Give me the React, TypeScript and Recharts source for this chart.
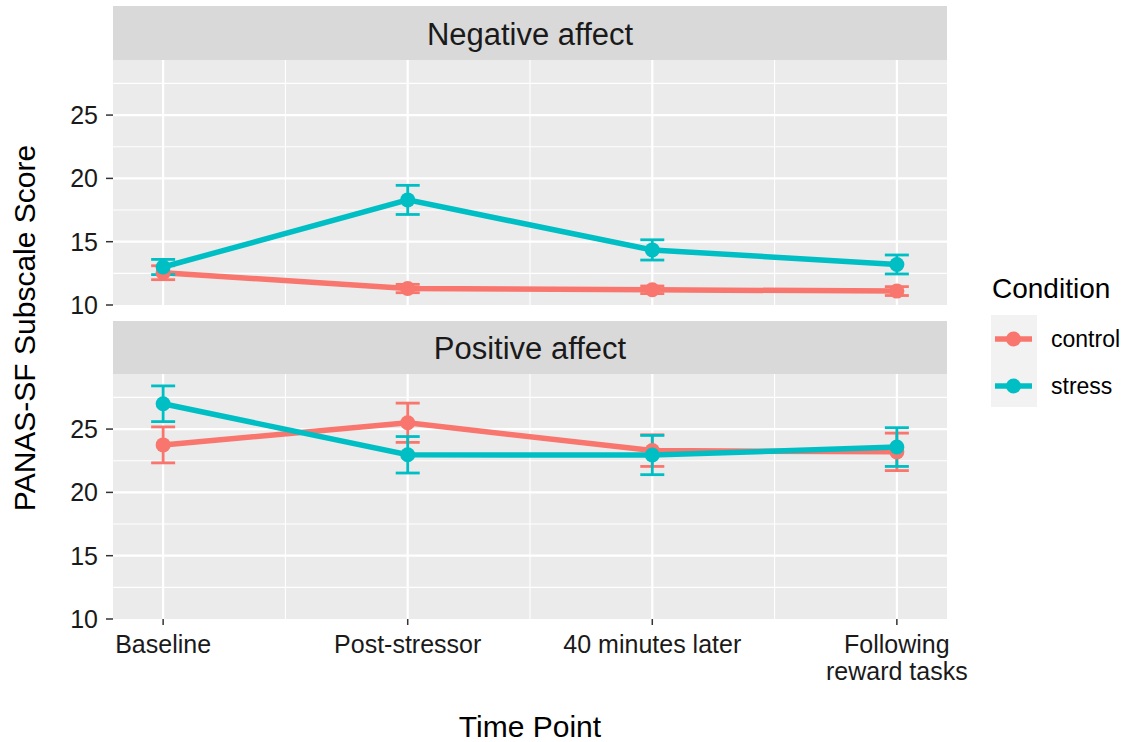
import React from 'react';
import { LineChart, Line, XAxis, YAxis, CartesianGrid, ReferenceLine, ErrorBar } from 'recharts';

// ---- data ----
const categories = ['Baseline', 'Post-stressor', '40 minutes later', 'Following\nreward tasks'];
const xPositions = [1, 2, 3, 4];
const conditions = ['control', 'stress'];
const conditionColors = ['#F8766D', '#00BFC4'];
const facets = ['Negative affect', 'Positive affect'];

const negControl = [12.55, 11.3, 11.2, 11.1];
const negControlErr = [0.55, 0.33, 0.3, 0.35];
const negStress = [13.0, 18.3, 14.35, 13.2];
const negStressErr = [0.6, 1.15, 0.8, 0.75];

const posControl = [23.75, 25.5, 23.3, 23.2];
const posControlErr = [1.42, 1.55, 1.25, 1.48];
const posStress = [27.0, 22.97, 22.95, 23.58];
const posStressErr = [1.41, 1.44, 1.55, 1.53];

const yTicks = [10, 15, 20, 25];
const yMajorGrid = [15, 20, 25];
const yMinorGrid = [12.5, 17.5, 22.5, 27.5];
const xMinorGrid = [1.5, 2.5, 3.5];
const yDomain = [10, 29.35];
const xDomain = [0.795, 4.205];

const yTitle = 'PANAS-SF Subscale Score';
const xTitle = 'Time Point';
const legendTitle = 'Condition';

const buildRows = (c: number[], ce: number[], s: number[], se: number[]) =>
  xPositions.map((x, i) => ({ x, control: c[i], controlErr: ce[i], stress: s[i], stressErr: se[i] }));

const negRows = buildRows(negControl, negControlErr, negStress, negStressErr);
const posRows = buildRows(posControl, posControlErr, posStress, posStressErr);

const FONT = '"Liberation Sans", Arial, Helvetica, sans-serif';
const TEXT = '#1a1a1a';

const XTick = (props: any) => {
  const { x, y, payload } = props;
  const idx = xPositions.indexOf(payload.value);
  const lines = (categories[idx] || '').split('\n');
  return (
    <text x={x} y={y} textAnchor="middle" fill={TEXT} fontSize={25} fontFamily={FONT}>
      {lines.map((l, i) => (
        <tspan key={i} x={x} dy={i === 0 ? 26 : 27}>
          {l}
        </tspan>
      ))}
    </text>
  );
};

function Panel({ rows, showX, top, height, marginTop, marginBottom }: any) {
  return (
    <div style={{ position: 'absolute', left: 0, top, width: 1010, height }}>
      <LineChart
        width={1010}
        height={height}
        data={rows}
        margin={{ top: marginTop, right: 63, bottom: marginBottom, left: 0 }}
      >
        <CartesianGrid fill="#EBEBEB" stroke="none" horizontal={false} vertical={false} />
        <XAxis
          type="number"
          dataKey="x"
          domain={xDomain}
          ticks={xPositions}
          hide={!showX}
          height={75}
          axisLine={false}
          tickSize={6}
          tickLine={{ stroke: '#333333', strokeWidth: 1.5 }}
          tick={<XTick />}
          interval={0}
        />
        <YAxis
          type="number"
          domain={yDomain}
          ticks={yTicks}
          width={113}
          axisLine={false}
          tickSize={7}
          tickMargin={8}
          tickLine={{ stroke: '#333333', strokeWidth: 1.5 }}
          tick={{ fill: TEXT, fontSize: 25, fontFamily: FONT }}
          interval={0}
        />
        {yMinorGrid.map((v) => (
          <ReferenceLine key={'ym' + v} y={v} stroke="#FFFFFF" strokeWidth={1.1} />
        ))}
        {xMinorGrid.map((v) => (
          <ReferenceLine key={'xm' + v} x={v} stroke="#FFFFFF" strokeWidth={1.1} />
        ))}
        {yMajorGrid.map((v) => (
          <ReferenceLine key={'yM' + v} y={v} stroke="#FFFFFF" strokeWidth={2.2} />
        ))}
        {xPositions.map((v) => (
          <ReferenceLine key={'xM' + v} x={v} stroke="#FFFFFF" strokeWidth={2.2} />
        ))}
        {conditions.map((c, i) => (
          <Line
            key={c}
            type="linear"
            dataKey={c}
            stroke={conditionColors[i]}
            strokeWidth={5.5}
            dot={{ r: 7.5, fill: conditionColors[i], stroke: 'none' }}
            activeDot={false}
            isAnimationActive={false}
          >
            <ErrorBar
              dataKey={c + 'Err'}
              direction="y"
              width={12}
              strokeWidth={2.8}
              stroke={conditionColors[i]}
              isAnimationActive={false}
            />
          </Line>
        ))}
      </LineChart>
    </div>
  );
}

export default function App() {
  return (
    <div
      style={{
        position: 'absolute',
        left: 0,
        top: 0,
        width: 1128,
        height: 742,
        background: '#FFFFFF',
        fontFamily: FONT,
        overflow: 'hidden',
      }}
    >
      <svg width={1128} height={742} style={{ position: 'absolute', left: 0, top: 0 }}>
        {/* strips */}
        <rect x={113} y={6} width={834} height={54} fill="#D9D9D9" />
        <rect x={113} y={321} width={834} height={53} fill="#D9D9D9" />
        <text x={530} y={45} textAnchor="middle" fontSize={31} fill={TEXT} fontFamily={FONT}>
          {facets[0]}
        </text>
        <text x={530} y={359} textAnchor="middle" fontSize={31} fill={TEXT} fontFamily={FONT}>
          {facets[1]}
        </text>
        {/* axis titles */}
        <text
          x={35}
          y={328}
          textAnchor="middle"
          fontSize={30}
          fill="#000"
          fontFamily={FONT}
          transform="rotate(-90, 35, 328)"
        >
          {yTitle}
        </text>
        <text x={530} y={737} textAnchor="middle" fontSize={30} fill="#000" fontFamily={FONT}>
          {xTitle}
        </text>
        {/* legend */}
        <text x={992} y={298} fontSize={28} fill="#000" fontFamily={FONT}>
          {legendTitle}
        </text>
        <rect x={991} y={315} width={46} height={92} fill="#F2F2F2" />
        {conditions.map((c, i) => {
          const cy = 339 + i * 47;
          return (
            <g key={c}>
              <line x1={995} x2={1032} y1={cy} y2={cy} stroke={conditionColors[i]} strokeWidth={5.5} />
              <circle cx={1013.5} cy={cy} r={7.5} fill={conditionColors[i]} />
              <text x={1051} y={cy + 8} fontSize={23} fill="#000" fontFamily={FONT}>
                {c}
              </text>
            </g>
          );
        })}
      </svg>
      <Panel rows={negRows} showX={false} top={0} height={320} marginTop={60} marginBottom={15} />
      <Panel rows={posRows} showX={true} top={320} height={422} marginTop={54} marginBottom={48} />
    </div>
  );
}
